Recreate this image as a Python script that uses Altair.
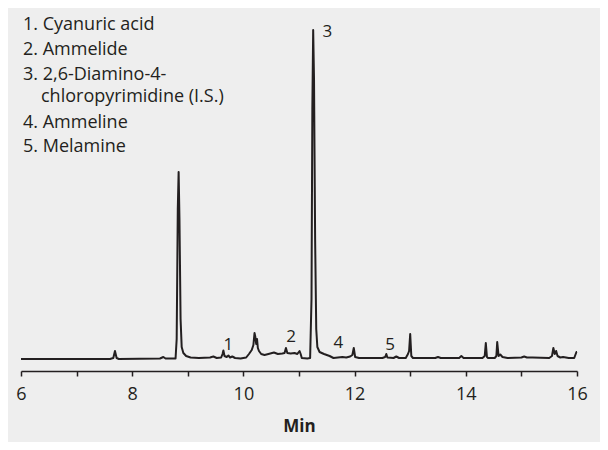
import altair as alt
import pandas as pd

# Retention time (min) and detector response (arbitrary units)
times = [6.00, 7.60, 7.66, 7.69, 7.72, 7.76, 8.50, 8.56, 8.60, 8.78,
         8.80, 8.82, 8.835, 8.85, 8.87, 8.89, 8.92, 8.97, 9.05, 9.20,
         9.40, 9.46, 9.52, 9.60, 9.625, 9.64, 9.66, 9.70, 9.73, 9.76,
         9.80, 9.85, 9.95, 10.05, 10.10, 10.15, 10.18, 10.20, 10.215, 10.23,
         10.245, 10.26, 10.28, 10.32, 10.38, 10.45, 10.55, 10.62, 10.70, 10.74,
         10.765, 10.79, 10.85, 10.92, 10.97, 11.01, 11.03, 11.05, 11.15, 11.20,
         11.225, 11.24, 11.255, 11.27, 11.29, 11.31, 11.33, 11.37, 11.45, 11.55,
         11.62, 11.70, 11.78, 11.85, 11.92, 11.96, 11.985, 12.01, 12.08, 12.30,
         12.50, 12.55, 12.57, 12.59, 12.70, 12.75, 12.80, 12.92, 12.96, 12.98,
         13.00, 13.02, 13.05, 13.45, 13.50, 13.55, 13.88, 13.92, 13.96, 14.30,
         14.34, 14.36, 14.38, 14.40, 14.52, 14.55, 14.565, 14.59, 14.62, 14.66,
         14.75, 15.00, 15.05, 15.10, 15.20, 15.50, 15.55, 15.575, 15.60, 15.625,
         15.65, 15.70, 15.75, 15.85, 15.95, 15.99, 16.00]
signal = [0, 0, 1, 8, 1, 0, 0.5, 2, 0.5, 0.5,
          20, 150, 187, 140, 40, 12, 6, 3, 1.5, 1,
          1.5, 2.5, 1, 1.5, 5, 8.5, 3, 2, 3.5, 1.5,
          2.5, 1, 0.5, 1.5, 5, 9, 14, 26, 22, 15,
          20, 11, 8, 5, 4, 5, 6.5, 5, 5.5, 6,
          11, 6, 5.5, 6, 5, 8, 5, 1, 0.5, 1,
          60, 250, 329, 280, 120, 30, 12, 7, 5, 3,
          1, 1.5, 2, 1.5, 2.5, 4, 11, 2, 1, 1,
          1, 2, 5, 1.5, 1, 2.5, 1, 1, 5, 8,
          25, 3, 1, 1, 2, 1, 1, 3, 1, 1,
          3, 16, 2, 1, 1, 3, 17, 3, 4.5, 2,
          1, 1.5, 2.5, 1.5, 1.5, 1, 3, 11, 5, 8,
          3, 1.5, 2, 1, 1, 7, 7]

# Peak labels
peak_labels = ["1", "2", "3", "4", "5"]
peak_label_t = [9.73, 10.86, 11.51, 11.71, 12.64]
peak_label_v = [14, 22, 327, 16, 14]

legend_lines = ["1. Cyanuric acid", "2. Ammelide", "3. 2,6-Diamino-4-",
                "chloropyrimidine (I.S.)", "4. Ammeline", "5. Melamine"]

tick_values = [6, 7, 8, 9, 10, 11, 12, 13, 14, 15, 16]

FONT = "Open Sans"
INK = "#231f20"

trace = pd.DataFrame({"t": times, "v": signal})
labels = pd.DataFrame({"t": peak_label_t, "v": peak_label_v, "lab": peak_labels})

xscale = alt.Scale(domain=[6, 16], nice=False, zero=False)
yscale = alt.Scale(domain=[-12, 339], nice=False, zero=False)

line = alt.Chart(trace).mark_line(color=INK, strokeWidth=2, strokeJoin="round").encode(
    x=alt.X("t:Q", scale=xscale, title="Min",
            axis=alt.Axis(values=tick_values,
                          labelExpr="datum.value % 2 == 0 ? datum.label : ''",
                          grid=False, domainColor=INK, domainWidth=1.5,
                          tickColor=INK, tickWidth=1.5, tickSize=5,
                          labelFont=FONT, labelFontSize=18, labelColor=INK,
                          labelPadding=9, labelFlush=False,
                          titleFont=FONT, titleFontSize=17, titleFontWeight="bold",
                          titleColor=INK, titlePadding=15)),
    y=alt.Y("v:Q", scale=yscale, axis=None),
)

peak_text = alt.Chart(labels).mark_text(font=FONT, fontSize=17, color=INK,
                                        align="center", baseline="middle").encode(
    x=alt.X("t:Q", scale=xscale),
    y=alt.Y("v:Q", scale=yscale),
    text="lab:N",
)

legend_layers = []
baselines = [10, 35, 60, 82, 108, 132]
for i, txt in enumerate(legend_lines):
    xoff = 20 if i == 3 else 2
    legend_layers.append(
        alt.Chart(pd.DataFrame({"s": [txt]})).mark_text(
            font=FONT, fontSize=18, color=INK, align="left", baseline="alphabetic"
        ).encode(x=alt.value(xoff), y=alt.value(baselines[i]), text="s:N")
    )

chart = alt.layer(line, peak_text, *legend_layers).properties(
    width=556, height=351,
    padding={"left": 13, "top": 12, "right": 23, "bottom": 71},
    autosize=alt.AutoSizeParams(type="none"),
    background="#eeeeee",
).configure_view(stroke=None)

chart.save("out.html", embed_options={"renderer": "svg", "actions": False})
